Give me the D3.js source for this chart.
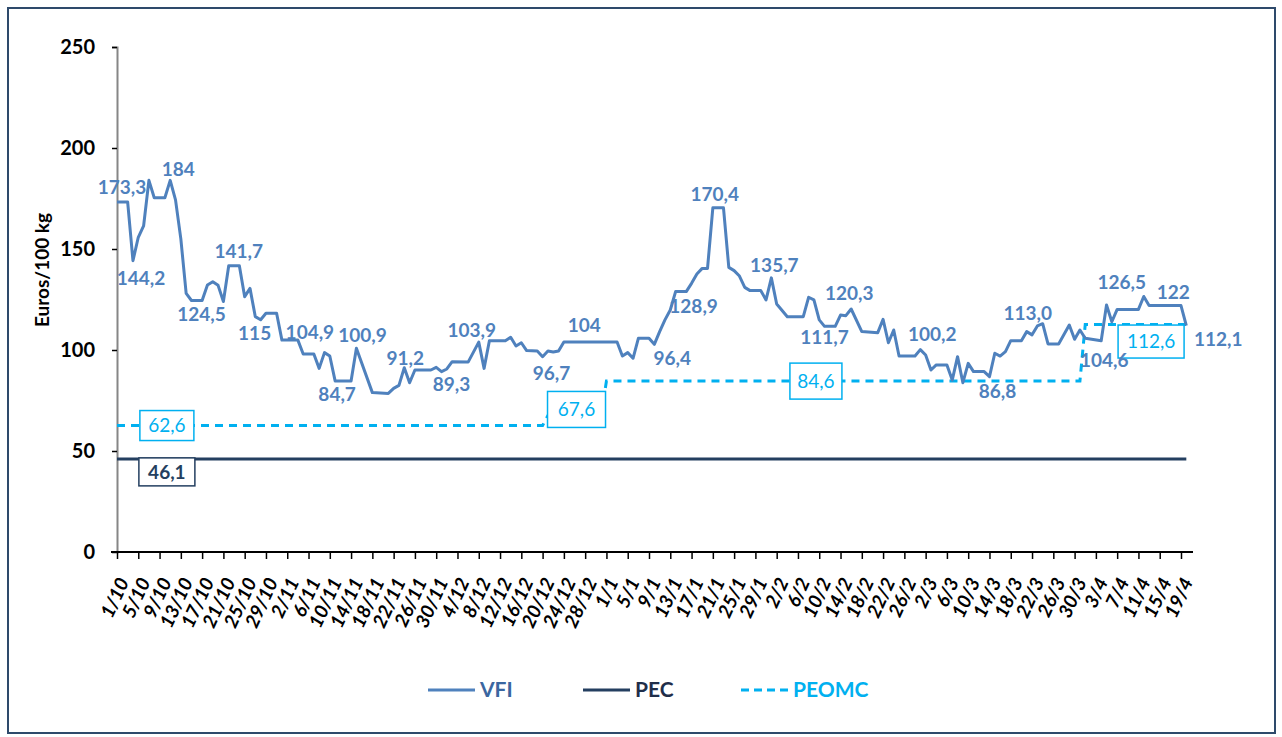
<!DOCTYPE html>
<html>
<head>
<meta charset="utf-8">
<script src="https://cdn.jsdelivr.net/npm/d3@7"></script>
<style>
  body { margin: 0; background: #fff; }
  svg text { font-family: Lato, "Open Sans", sans-serif; }
</style>
</head>
<body>
<div id="chart"></div>
<script>

// days counted from 1/10
var vfiDays = [0, 2, 3, 4, 5, 6, 7, 9, 10, 11, 12, 13, 14, 16, 17, 18, 19, 20, 21, 23,
    24, 25, 26, 27, 28, 30, 31, 34, 35, 37, 38, 39, 40, 41, 44, 45, 48, 51, 52, 53,
    54, 55, 56, 59, 60, 61, 62, 63, 66, 68, 69, 70, 73, 74, 75, 76, 77, 79, 80, 81,
    82, 83, 84, 94, 95, 96, 97, 98, 100, 101, 102, 103, 104, 105, 107, 108, 109, 110, 111, 112,
    114, 115, 116, 117, 118, 119, 121, 122, 123, 124, 126, 129, 130, 131, 132, 133, 135, 136, 137, 138,
    140, 143, 144, 145, 146, 147, 150, 151, 152, 153, 154, 156, 157, 158, 159, 160, 161, 163, 164, 165,
    166, 167, 168, 170, 171, 172, 173, 174, 175, 177, 179, 180, 181, 182, 185, 186, 187, 188, 192, 193,
    194, 200, 201];
var vfiValues = [173.3, 173.3, 144.2, 155.8, 161.4, 184, 175.4, 175.4, 184, 174.3, 155, 128, 124.5, 124.5, 132.2, 133.8, 132, 124, 141.7, 141.7,
    126.4, 130.5, 116.5, 115, 118.2, 118.2, 104.9, 104.9, 98, 98, 90.9, 98.7, 97, 84.7, 84.7, 100.9, 78.9, 78.5, 81, 82.5,
    91.2, 83.8, 90.1, 90.1, 91.4, 89.3, 90.6, 94.2, 94, 103.9, 90.9, 104.6, 104.6, 106.3, 102, 103.6, 99.7, 99.5, 96.7, 99.5,
    99, 99.5, 104, 104, 97, 98.7, 95.9, 105.8, 105.8, 102.8, 109.1, 114.9, 119.8, 128.9, 128.9, 133, 137.6, 140.4, 140.4, 170.4,
    170.4, 140.9, 139.3, 136.6, 131, 129.4, 129.4, 124.8, 135.7, 122.8, 116.5, 116.5, 126.1, 124.8, 114.9, 111.7, 111.7, 117.3, 117, 120.3,
    109.1, 108.6, 115.2, 103.6, 109.9, 97, 97, 100.2, 97.5, 90.1, 92.6, 92.6, 85.1, 96.7, 83.8, 93.4, 89.3, 89.3, 86.8, 98.4,
    97, 99.2, 104.6, 104.6, 109.1, 107.5, 111.9, 113, 103, 103, 112.4, 105.3, 109.9, 105.8, 104.6, 122.3, 114, 120.1, 120.1, 126.5,
    122, 122, 112.1];

var pecDays = [0, 201];
var pecValues = [46.1, 46.1];

var peomcDays = [0, 80, 81, 91, 92, 181, 182, 201];
var peomcValues = [62.6, 62.6, 67.6, 67.6, 84.6, 84.6, 112.6, 112.6];

// data labels on the VFI line: which point, and the text shown
var vfiLabelDays = [0, 3, 10, 14, 21, 27, 34, 45, 41, 54, 61, 68, 80, 88, 101, 105, 112, 123, 133, 138, 151, 164, 174, 185, 193, 198, 201];
var vfiLabelText = ["173,3", "144,2", "184", "124,5", "141,7", "115", "104,9", "100,9", "84,7", "91,2", "89,3", "103,9", "96,7", "104",
    "96,4", "128,9", "170,4", "135,7", "111,7", "120,3", "100,2", "86,8", "113,0", "104,6", "126,5", "122", "112,1"];

var yTicks = [0, 50, 100, 150, 200, 250];

// label offsets in px (layout only)
var vfiLabelOffsets = [[5, -15], [8, 18], [8, -11], [10, 14], [10, -14], [-6, 14], [12, -8], [6, -13], [2, 13], [1, -9],
    [10, 13], [-7, -12], [9, 17], [-1, -17], [18, 14], [18, 15], [2, -13], [3, -13], [0, 11], [-2, -16], [12, -15], [8, 15],
    [-15, -10], [3, 20], [-22, -14], [3, -13], [32, 14]];

var svgWidth = 1282, svgHeight = 737;
var start = new Date(Date.UTC(2012, 9, 1));
function dayDate(d) { return d3.utcDay.offset(start, d); }

var svg = d3.select("#chart").append("svg")
    .attr("width", svgWidth)
    .attr("height", svgHeight);

// frame
svg.append("rect")
    .attr("x", 8).attr("y", 8)
    .attr("width", 1267).attr("height", 725)
    .attr("fill", "none")
    .attr("stroke", "#2E4A6B")
    .attr("stroke-width", 2);

var x = d3.scaleUtc()
    .domain([start, dayDate(202)])
    .range([117, 117 + 5.32 * 202]);

var y = d3.scaleLinear()
    .domain([0, 250])
    .range([552, 47]);

// y axis
var yAxis = svg.append("g")
    .attr("transform", "translate(117,0)")
    .call(d3.axisLeft(y).tickValues(yTicks).tickSize(5).tickPadding(17).tickFormat(d3.format("d")));
yAxis.select(".domain").attr("stroke", "#868686").attr("stroke-width", 2);
yAxis.selectAll(".tick line").attr("stroke", "#000").attr("stroke-width", 1.5);
yAxis.selectAll(".tick text")
    .attr("font-size", 20).attr("font-weight", "bold").attr("fill", "#000")
    .attr("font-family", "Lato, sans-serif");
yAxis.select(".tick line").remove();

svg.append("text")
    .attr("transform", "translate(42,270) rotate(-90)")
    .attr("text-anchor", "middle")
    .attr("dy", "0.35em")
    .attr("font-size", 19)
    .attr("font-weight", "bold")
    .text("Euros/100 kg");

// x axis
var xTickDates = d3.range(0, 201, 4).map(dayDate);
var xAxis = svg.append("g")
    .attr("transform", "translate(0,552)")
    .call(d3.axisBottom(x).tickValues(xTickDates).tickSize(7).tickSizeOuter(0)
        .tickFormat(d3.utcFormat("%-d/%-m")));
xAxis.select(".domain").attr("stroke", "#000").attr("stroke-width", 2)
    .attr("d", "M111,0H1193");
xAxis.selectAll(".tick line").attr("stroke", "#000").attr("stroke-width", 1.5);
xAxis.selectAll(".tick text")
    .attr("y", 0).attr("dy", "0.35em")
    .attr("transform", "translate(6,27) rotate(-65)")
    .attr("text-anchor", "end")
    .attr("font-size", 19)
    .attr("font-weight", "bold")
    .attr("font-style", "italic")
    .attr("fill", "#000");

function series(days, values) {
    return days.map(function(d, i) { return { date: dayDate(d), value: values[i] }; });
}

var line = d3.line()
    .x(d => x(d.date))
    .y(d => y(d.value));

// PEC
svg.append("path")
    .datum(series(pecDays, pecValues))
    .attr("d", line)
    .attr("fill", "none")
    .attr("stroke", "#243F60")
    .attr("stroke-width", 3);

// PEOMC
svg.append("path")
    .datum(series(peomcDays, peomcValues))
    .attr("d", line)
    .attr("fill", "none")
    .attr("stroke", "#00B0F0")
    .attr("stroke-width", 3)
    .attr("stroke-dasharray", "8,6");

// VFI
svg.append("path")
    .datum(series(vfiDays, vfiValues))
    .attr("d", line)
    .attr("fill", "none")
    .attr("stroke", "#4F81BD")
    .attr("stroke-width", 3)
    .attr("stroke-linejoin", "round");

// boxed labels for PEC and PEOMC
var boxLabels = [
    { day: 9, value: 62.6, text: "62,6", color: "#00B0F0", dy: 0, w: 54, h: 30 },
    { day: 9, value: 46.1, text: "46,1", color: "#243F60", dy: 13, w: 56, h: 28 },
    { day: 86, value: 67.6, text: "67,6", color: "#00B0F0", dy: -6, w: 58, h: 36 },
    { day: 131, value: 84.6, text: "84,6", color: "#00B0F0", dy: 0, w: 52, h: 36 },
    { day: 194, value: 112.6, text: "112,6", color: "#00B0F0", dy: 17, w: 66, h: 33 }
];
boxLabels.forEach(function(b) {
    var cx = x(dayDate(b.day)) + 2, cy = y(b.value) + b.dy;
    svg.append("rect")
        .attr("x", cx - b.w / 2).attr("y", cy - b.h / 2)
        .attr("width", b.w).attr("height", b.h)
        .attr("fill", "#fff")
        .attr("stroke", b.color)
        .attr("stroke-width", 1.5);
    svg.append("text")
        .attr("x", cx).attr("y", cy)
        .attr("dy", "0.35em")
        .attr("text-anchor", "middle")
        .attr("font-size", 19)
        .attr("font-weight", b.color === "#00B0F0" ? "normal" : "bold")
        .attr("fill", b.color)
        .text(b.text);
});

// VFI labels
vfiLabelDays.forEach(function(d, i) {
    var v = vfiValues[vfiDays.indexOf(d)];
    if (v === undefined) v = vfiValues[d3.bisectLeft(vfiDays, d) - 1];
    svg.append("text")
        .attr("x", x(dayDate(d)) + vfiLabelOffsets[i][0])
        .attr("y", y(v) + vfiLabelOffsets[i][1])
        .attr("dy", "0.35em")
        .attr("text-anchor", "middle")
        .attr("font-size", 19)
        .attr("font-weight", "bold")
        .attr("fill", "#4F81BD")
        .text(vfiLabelText[i]);
});

// legend
var legend = [
    { name: "VFI", color: "#4F81BD", text: "#3A66A0", x: 428, dash: null },
    { name: "PEC", color: "#243F60", text: "#1F2E4A", x: 583, dash: null },
    { name: "PEOMC", color: "#00B0F0", text: "#00B0F0", x: 741, dash: "8,5" }
];
legend.forEach(function(l) {
    svg.append("line")
        .attr("x1", l.x).attr("x2", l.x + 47)
        .attr("y1", 690).attr("y2", 690)
        .attr("stroke", l.color)
        .attr("stroke-width", 3)
        .attr("stroke-dasharray", l.dash);
    svg.append("text")
        .attr("x", l.x + 52).attr("y", 690)
        .attr("dy", "0.35em")
        .attr("font-family", "'Liberation Sans Narrow', 'DejaVu Sans Condensed', sans-serif")
        .attr("font-size", 21)
        .attr("font-weight", "bold")
        .attr("fill", l.text)
        .text(l.name);
});

</script>
</body>
</html>
